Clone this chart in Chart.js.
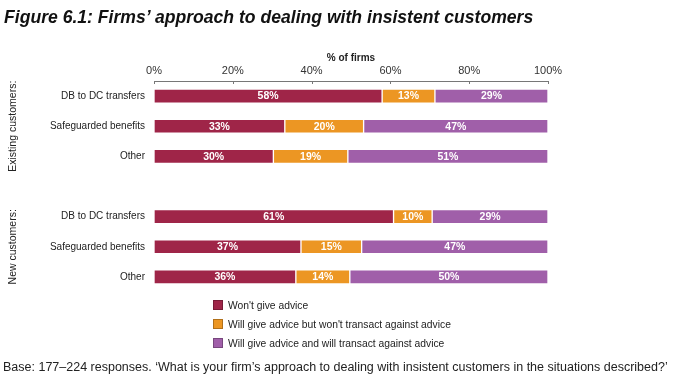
<!DOCTYPE html>
<html>
<head>
<meta charset="utf-8">
<script src="https://cdn.jsdelivr.net/npm/chart.js@4/dist/chart.umd.min.js"></script>
<style>
    body { margin: 0; background: #fff; font-family: 'Liberation Sans', Arial, sans-serif; color: #222; }
    #wrap { position: relative; width: 700px; height: 385px; overflow: hidden; }
    #chart { position: absolute; left: 0; top: 0; }
    #title { position: absolute; left: 4px; top: 7px; font-size: 17.6px; font-weight: bold; font-style: italic; color: #111; white-space: nowrap; }
    #legend { position: absolute; left: 213px; top: 300px; font-size: 10.3px; }
    #legend div { height: 19px; line-height: 12px; display: flex; align-items: flex-start; }
    #legend span.box { width: 10px; height: 10px; margin-right: 5px; box-sizing: border-box; border: 1px solid rgba(0,0,0,0.25); }
    #note { position: absolute; left: 3px; top: 360px; font-size: 12.5px; white-space: nowrap; }
</style>
</head>
<body>
<div id="wrap">
    <canvas id="chart" width="700" height="385"></canvas>
    <div id="title">Figure 6.1: Firms’ approach to dealing with insistent customers</div>
    <div id="legend"></div>
    <div id="note">Base: 177–224 responses. ‘What is your firm’s approach to dealing with insistent customers in the situations described?’</div>
</div>
<script>
const categories = ['DB to DC transfers', 'Safeguarded benefits', 'Other', '', 'DB to DC transfers', 'Safeguarded benefits', 'Other'];
const wontGive = [57.9, 33.2, 30.3, null, 60.8, 37.3, 36.0];
const giveNoTransact = [13.4, 20.0, 18.9, null, 9.8, 15.4, 13.7];
const giveAndTransact = [28.7, 46.8, 50.8, null, 29.4, 47.3, 50.3];
const seriesNames = ["Won't give advice", "Will give advice but won't transact against advice", 'Will give advice and will transact against advice'];
const seriesColors = ['#9f2548', '#ec9623', '#a05fa9'];
const xTicks = [0, 20, 40, 60, 80, 100];
const groupNames = ['Existing customers:', 'New customers:'];
const groupRows = [[0, 2], [4, 6]];

document.addEventListener('DOMContentLoaded', () => {
    const font = "'Liberation Sans', Arial, sans-serif";

    // white % labels in each segment
    const valueLabels = {
        id: 'valueLabels',
        afterDatasetsDraw(chart) {
            const ctx = chart.ctx;
            ctx.save();
            ctx.fillStyle = '#fff';
            ctx.font = 'bold 10.5px ' + font;
            ctx.textAlign = 'center';
            ctx.textBaseline = 'middle';
            chart.data.datasets.forEach((ds, i) => {
                chart.getDatasetMeta(i).data.forEach((bar, j) => {
                    if (ds.data[j] == null) return;
                    ctx.fillText(Math.round(ds.data[j]) + '%', (bar.x + bar.base) / 2, bar.y + 0.5);
                });
            });
            ctx.restore();
        }
    };

    // tick marks pointing down from the top axis + rotated group labels
    const extras = {
        id: 'extras',
        afterDraw(chart) {
            const ctx = chart.ctx;
            const x = chart.scales.x, y = chart.scales.y;
            ctx.save();
            ctx.strokeStyle = '#777';
            ctx.lineWidth = 1;
            xTicks.forEach(v => {
                const px = Math.round(x.getPixelForValue(v)) + 0.5;
                ctx.beginPath();
                ctx.moveTo(px, x.bottom);
                ctx.lineTo(px, x.bottom + 3);
                ctx.stroke();
            });
            ctx.fillStyle = '#222';
            ctx.font = '10.5px ' + font;
            ctx.textAlign = 'center';
            ctx.textBaseline = 'middle';
            groupNames.forEach((name, i) => {
                const mid = (y.getPixelForValue(groupRows[i][0]) + y.getPixelForValue(groupRows[i][1])) / 2;
                ctx.save();
                ctx.translate(13, mid);
                ctx.rotate(-Math.PI / 2);
                ctx.fillText(name, 0, 0);
                ctx.restore();
            });
            ctx.restore();
        }
    };

    const seriesData = [wontGive, giveNoTransact, giveAndTransact];

    new Chart(document.getElementById('chart'), {
        type: 'bar',
        data: {
            labels: categories,
            datasets: seriesData.map((d, i) => ({
                label: seriesNames[i],
                data: d,
                backgroundColor: seriesColors[i],
                borderColor: 'rgba(255,255,255,0.45)',
                borderWidth: 1,
                borderSkipped: false,
                barThickness: 14
            }))
        },
        options: {
            indexAxis: 'y',
            responsive: false,
            animation: false,
            layout: { padding: { left: 0, right: 152, top: 48, bottom: 93 } },
            plugins: { legend: { display: false }, tooltip: { enabled: false } },
            scales: {
                x: {
                    position: 'top',
                    stacked: true,
                    min: 0,
                    max: 100,
                    afterFit: s => { s.height = 33; },
                    afterBuildTicks: s => { s.ticks = xTicks.map(v => ({ value: v })); },
                    ticks: {
                        callback: v => v + '%',
                        color: '#333',
                        padding: 3,
                        maxRotation: 0,
                        font: { family: font, size: 11 }
                    },
                    grid: { display: false, drawTicks: false },
                    border: { display: true, color: '#777', width: 1 },
                    title: {
                        display: true,
                        text: '% of firms',
                        color: '#222',
                        padding: { top: 4, bottom: 0 },
                        font: { family: font, size: 10, weight: 'bold' }
                    }
                },
                y: {
                    stacked: true,
                    afterFit: s => { s.width = 154; },
                    ticks: { color: '#222', padding: 9, font: { family: font, size: 10 } },
                    grid: { display: false, drawTicks: false },
                    border: { display: false }
                }
            }
        },
        plugins: [valueLabels, extras]
    });

    const legend = document.getElementById('legend');
    seriesNames.forEach((name, i) => {
        const row = document.createElement('div');
        row.innerHTML = '<span class="box" style="background:' + seriesColors[i] + '"></span><span>' + name + '</span>';
        legend.appendChild(row);
    });
});
</script>
</body>
</html>
